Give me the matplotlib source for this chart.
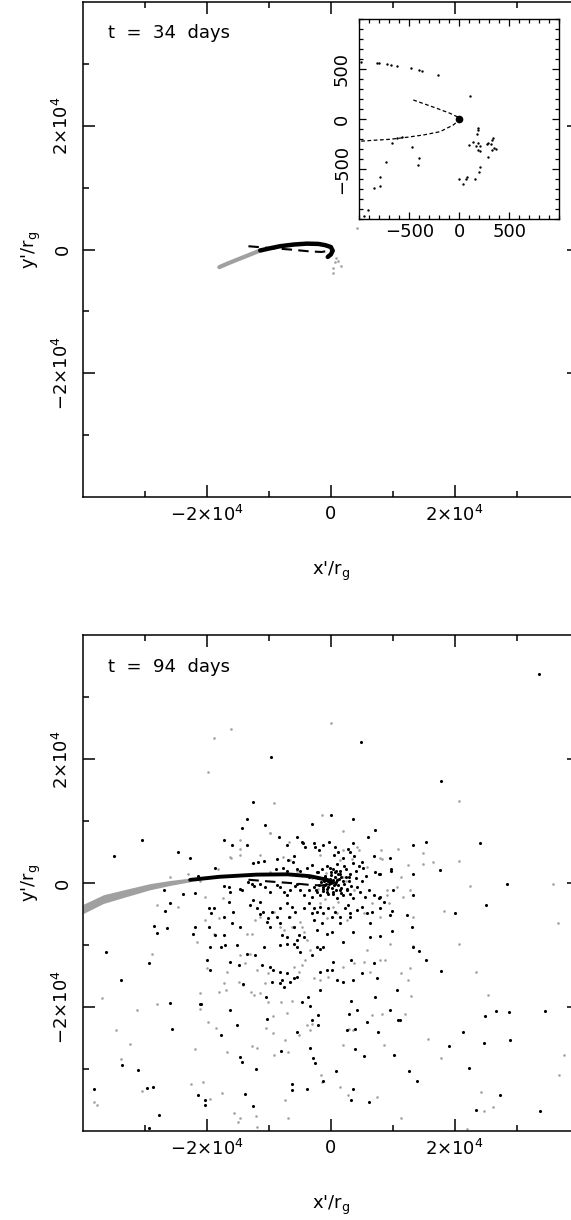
import numpy as np
import matplotlib
matplotlib.use('Agg')
import matplotlib.pyplot as plt
from matplotlib.ticker import FixedLocator, MultipleLocator

plt.rcParams['font.family'] = ['DejaVu Sans']
plt.rcParams['mathtext.fontset'] = 'dejavusans'
plt.rcParams['axes.linewidth'] = 1.1

GRAY = '#a0a0a0'
K = 1e3   # main-panel coordinates below are in units of 10^3 r_g

# =============================================================================
# t = 34 days
# =============================================================================
gstream34_x = [-18.0, -16.5, -15.0, -13.0, -11.4]
gstream34_y = [-2.85, -2.2, -1.6, -0.8, -0.16]
bstream34_x = [-11.4, -9.8, -8.2, -6.0, -3.9, -2.0, -0.9, 0.0, 0.3, 0.0, -0.5]
bstream34_y = [-0.16, 0.2, 0.53, 0.8, 0.95, 0.9, 0.7, 0.4, -0.2, -0.8, -1.2]
gray34 = [(0.85, -1.45), (1.1, -1.8), (0.6, -2.1), (1.6, -2.7), (0.35, -3.0),
          (0.4, -3.8), (4.3, 3.5)]

# dashed orbit in the main panels
orbit_x = [-13.3, -10.0, -6.6, -3.5, -1.5, -0.3]
orbit_y = [0.53, 0.25, 0.0, -0.3, -0.4, -0.2]

# inset (units of r_g)
inset_orbit_x = [-460, -226, -93, -10, 5, -60, -193, -360, -526, -693, -860, -1000]
inset_orbit_y = [193, 110, 60, 20, 0, -57, -124, -157, -180, -200, -210, -220]
inset_pts = [(-983, 576), (-826, 566), (-800, 566), (-726, 550), (-686, 546), (-626, 536),
             (-483, 516), (-406, 493), (-373, 486), (-216, 443), (107, 233), (190, -90),
             (184, -107), (180, -147), (100, -257), (140, -223), (167, -267), (190, -240),
             (207, -264), (184, -307), (207, -314), (274, -247), (290, -234), (314, -247),
             (340, -184), (324, -207), (347, -290), (324, -307), (364, -297), (284, -374),
             (207, -474), (200, -524), (157, -597), (80, -574), (67, -600), (34, -650),
             (-3, -597), (-476, -280), (-400, -384), (-416, -457), (-733, -427), (-793, -574),
             (-793, -667), (-856, -690), (-910, -907), (-950, -967), (-676, -234),
             (-626, -190), (-573, -177)]

# =============================================================================
# t = 94 days
# =============================================================================
gstream94_x = [-40.0, -36.7, -33.0, -29.2, -26.0, -22.7]
gstream94_y = [-4.2, -2.6, -1.6, -0.6, 0.0, 0.5]
gstream94_hw = [0.75, 0.7, 0.6, 0.5, 0.4, 0.3]
bstream94_x = [-22.7, -18.0, -12.0, -7.0, -3.4, -1.0, 0.0]
bstream94_y = [0.5, 1.0, 1.35, 1.4, 1.1, 0.6, 0.2]

black94 = [
    (-9.6, 20.4), (-12.6, 13.1), (-13.5, 10.3), (-10.7, 9.3), (-14.3, 8.8), (-30.4, 6.9),
    (-17.2, 7.0), (-15.9, 6.1), (-13.5, 6.2), (-8.4, 7.4), (-7.0, 6.2), (-24.6, 5.0),
    (-22.7, 4.0), (-35.0, 4.3), (-6.0, 4.4), (-8.7, 3.8), (-12.5, 3.3), (-11.8, 3.4),
    (-10.8, 3.5), (-18.7, 2.4), (0.1, 11.0), (3.6, 10.3), (-3.0, 9.6), (7.1, 8.6),
    (-5.4, 7.5), (-4.7, 6.6), (-4.5, 6.4), (-4.2, 5.8), (-2.7, 6.4), (-2.5, 5.8),
    (-1.2, 6.2), (-0.3, 6.6), (-1.9, 5.3), (0.7, 5.8), (1.2, 5.0), (3.6, 6.4), (3.1, 5.0),
    (6.0, 7.4), (-6.1, 3.4), (-6.9, 3.7), (-21.4, 1.2), (-8.9, 2.3), (-7.8, 2.5),
    (-7.0, 2.0), (-5.5, 2.3), (-5.0, 2.0), (-3.9, 2.5), (-3.0, 2.9), (-2.3, 1.8),
    (-1.5, 2.3), (-0.7, 2.7), (-0.2, 2.5), (0.1, 1.8), (0.9, 2.0), (1.5, 1.5), (2.5, 2.3),
    (3.1, 1.5), (4.0, 1.9), (5.2, 2.5), (5.7, 1.2), (7.1, 1.8), (7.9, 1.5),
    (-27.0, -1.2), (-23.8, -1.7), (-21.9, -1.6),
    (9.6, 4.1), (13.3, 6.2), (5.0, 3.4), (7.0, 4.3), (7.8, 1.5), (9.7, 2.0), (13.2, 1.5),
    (-17.3, -0.5), (-16.5, -0.6), (-16.2, -1.5), (-16.4, -3.0), (-14.7, -0.9),
    (-14.4, -1.2), (-13.3, 0.2), (-12.7, -0.1), (-12.4, -0.5), (-11.4, -0.1),
    (-10.6, -0.6), (-9.8, -1.5), (-8.7, -0.4), (-8.2, -0.6), (-7.6, -1.5), (-7.1, -2.0),
    (-6.6, -1.2), (-5.8, -0.5), (-5.4, -0.1), (-5.0, -1.2), (-4.4, -2.0), (-3.6, -1.2),
    (-3.1, -2.3), (-2.8, -0.6), (-2.3, -1.5), (-1.7, -2.0), (-1.2, -0.9), (-0.6, -1.5),
    (0.4, -1.7), (1.0, -2.5), (1.5, -1.2), (2.0, -2.0), (2.6, -0.9), (3.1, -1.7),
    (3.6, -2.5), (4.2, -0.6), (4.7, -1.5), (5.5, -2.3), (6.1, -1.2), (6.9, -2.0),
    (7.7, -2.5), (8.5, -3.1), (10.1, -1.2), (13.3, -2.0),
    (-19.7, -4.1), (-18.9, -4.1), (-19.4, -4.9), (-17.3, -5.5), (-16.0, -6.5),
    (-14.6, -7.1), (-15.8, -4.7), (-13.0, -3.6), (-12.5, -2.8), (-11.4, -3.1),
    (-11.9, -4.1), (-10.9, -4.7), (-11.4, -5.0), (-10.1, -5.7), (-9.5, -4.7), (-8.7, -5.5),
    (-8.2, -4.1), (-7.1, -3.3), (-6.3, -3.9), (-5.8, -4.7), (-6.8, -5.5), (-4.4, -4.1),
    (-3.6, -3.3), (-2.8, -4.1), (-3.1, -4.9), (-2.3, -4.7), (-1.7, -3.9), (-1.2, -4.9),
    (-0.4, -4.1), (0.2, -5.5), (0.7, -4.7), (1.5, -5.5), (2.3, -4.1), (2.8, -3.6),
    (3.1, -4.9), (4.2, -4.4), (5.0, -3.9), (5.8, -4.9), (6.6, -4.7), (8.0, -4.1),
    (6.3, -6.5), (9.5, -5.2), (12.3, -5.2), (13.1, -7.1), (13.3, -10.3),
    (-19.7, -7.1), (-21.9, -7.1), (-22.2, -8.2), (-18.7, -8.4), (-17.3, -8.4),
    (-10.3, -6.3), (-9.8, -7.1), (-8.2, -6.5), (-6.0, -7.1), (-5.2, -8.4), (-4.4, -8.7),
    (-5.5, -9.2), (-6.0, -9.8), (-7.1, -8.7), (-2.8, -6.0), (-2.3, -7.6), (-1.5, -6.5),
    (-0.6, -8.2), (0.2, -7.9), (1.5, -6.5), (2.0, -9.5), (3.1, -5.5), (3.6, -7.9),
    (6.3, -8.7), (8.0, -8.5),
    (-19.5, -10.3), (-17.8, -10.3), (-17.1, -10.0), (-15.2, -10.0), (-13.5, -11.4),
    (-12.2, -11.7), (-11.1, -13.3), (-10.8, -10.3), (-8.2, -10.0), (-7.9, -8.4),
    (-7.1, -9.8), (-5.5, -10.3), (-5.0, -11.1), (-3.1, -11.7), (-1.7, -10.6),
    (-1.2, -10.3), (-2.3, -10.3), (0.4, -12.7),
    (-20.0, -12.5), (-19.5, -14.1), (-16.2, -12.7), (-14.9, -13.3), (-9.8, -13.5),
    (-9.3, -14.1), (-8.2, -14.4), (-7.1, -14.6), (-6.0, -15.4), (-5.5, -15.2),
    (-1.7, -14.4), (-0.6, -14.1), (0.2, -14.1), (1.0, -15.7), (2.0, -16.0), (3.6, -15.7),
    (3.3, -12.5), (5.0, -14.5), (7.0, -12.9), (7.4, -15.4),
    (-8.2, -16.2), (-7.6, -16.8), (-6.6, -16.0), (-7.9, -15.7), (-14.1, -16.3),
    (-10.4, -18.4), (-9.5, -16.0), (-4.7, -19.2), (-3.7, -18.4), (-1.8, -17.2),
    (7.1, -18.4), (10.6, -17.3),
    (-16.2, -20.5), (-21.1, -19.5), (-17.8, -24.6), (-15.2, -23.0), (-10.3, -21.9),
    (-5.5, -24.0), (-3.1, -22.1), (-2.0, -21.3), (-2.0, -23.0), (2.6, -23.8), (3.9, -23.5),
    (5.8, -22.4), (9.6, -20.5), (10.9, -22.1),
    (-25.9, -19.3), (-21.0, -19.6), (-25.6, -23.6), (-33.7, -29.4), (-31.1, -30.2),
    (-38.2, -33.3), (-29.7, -33.1), (-28.7, -32.9), (-27.7, -37.5), (-29.3, -39.5),
    (-21.5, -34.3), (-20.3, -35.0), (-20.3, -35.9), (-14.7, -28.1), (-14.3, -28.9),
    (-13.9, -34.0), (-12.5, -36.0), (-12.0, -30.0), (-8.0, -27.2), (-6.2, -32.4),
    (-6.2, -33.4), (-3.8, -33.3), (-3.4, -19.9), (-3.4, -26.6), (-2.9, -28.2),
    (-2.5, -29.0), (-1.2, -32.0), (0.9, -30.3), (3.0, -21.2), (3.3, -19.0), (4.2, -20.5),
    (3.9, -26.8), (5.4, -27.9), (3.6, -33.3), (3.2, -35.1), (6.2, -35.3), (7.6, -24.0),
    (10.2, -27.7), (11.1, -22.2), (12.6, -30.3), (13.9, -31.9), (21.3, -24.0),
    (19.0, -26.4), (22.3, -29.9), (23.5, -36.7), (24.7, -25.9), (24.9, -21.4),
    (26.7, -20.7), (28.7, -20.8), (27.3, -34.3), (28.9, -25.3), (33.8, -36.9),
    (34.5, -20.7),
    (28.5, -0.1), (25.0, -3.6), (20.0, -4.9), (9.9, -4.5), (9.8, -7.8), (8.0, -2.3),
    (14.3, -11.0), (15.3, -12.5), (17.7, -14.2),
    (-26.7, -4.5), (-26.0, -3.3), (-28.5, -6.9), (-28.0, -8.0), (-26.4, -7.2),
    (-36.3, -11.2), (-29.4, -12.9), (-33.9, -15.7),
    (33.6, 33.8), (17.7, 16.5), (15.4, 6.6), (24.0, 6.5), (9.7, 2.2), (17.6, 2.05),
    (4.9, 22.7),
    # dense core around the hole
    (0.0, 0.0), (0.3, 0.2), (-0.3, -0.2), (0.5, -0.4), (-0.5, 0.3), (0.8, 0.1),
    (-0.8, -0.1), (0.2, -0.8), (-0.2, 0.7), (1.1, -0.3), (-1.1, 0.4), (0.6, 0.9),
    (-0.6, -0.9), (1.3, 0.6), (-1.3, -0.6), (0.9, -1.1), (-0.9, 1.0), (1.6, -0.8),
    (-1.6, 0.2), (0.1, 1.3), (0.4, -1.4), (1.9, 0.3), (-1.9, -0.4), (1.2, 1.4),
    (-1.2, -1.3), (2.2, -0.2), (-2.1, 0.8), (0.7, 1.8), (2.4, 1.0), (1.7, -1.6),
    (-0.4, -1.8), (2.6, -1.1), (0.3, 2.2), (-2.4, -1.2), (1.5, 2.0), (2.9, 0.4),
    (3.2, -0.5), (-0.1, 0.4), (0.4, 0.5), (-0.4, -0.6), (0.6, -0.1), (-0.7, 0.6),
    (1.0, 0.5), (-1.0, -0.4), (1.0, 3.0), (2.0, 4.0), (3.5, 3.2), (4.5, 2.8), (0.5, 4.5),
    (2.8, 5.5), (3.8, 4.4), (1.7, 1.0), (2.2, 2.8), (4.0, 0.8), (5.0, 0.3), (3.0, 1.0),
    (-1.0, 1.2), (-2.0, 1.8), (-3.5, 1.0),
]

gray94 = [
    (-16.1, 24.8), (-18.8, 23.4), (-19.8, 18.0), (-9.1, 12.9), (-9.9, 8.0), (-14.6, 5.5),
    (-16.1, 4.1), (-23.0, 1.4), (-1.5, 10.9), (1.9, 8.4), (-6.8, 6.7), (1.9, 5.3),
    (8.0, 4.0), (8.1, 5.4), (4.5, 5.4), (-14.7, 4.5), (-18.2, 2.3), (-25.9, 1.0),
    (-9.8, 1.8), (-7.7, 4.2), (-20.3, -2.3), (-17.4, -2.4), (11.3, 0.9), (12.5, 2.9),
    (10.9, 5.5), (0.0, 25.8),
    (-20.3, -6.0), (-18.1, -5.7), (-18.9, -8.2), (-21.6, -9.5), (-20.0, -13.7),
    (-18.0, -17.6), (-17.0, -17.3), (-14.9, -16.0), (-14.1, -16.5), (-12.9, -17.6),
    (-12.4, -18.1), (-11.4, -17.8), (-10.6, -16.2), (-10.1, -14.6), (-11.9, -14.1),
    (-13.8, -13.0), (-16.8, -14.4), (-17.3, -16.2), (-14.6, -11.7), (-13.0, -11.4),
    (-13.5, -8.2), (-12.7, -8.3), (-12.2, -6.0), (-11.4, -5.5), (-9.2, -4.7),
    (-8.2, -7.1), (-7.6, -7.6), (-6.6, -5.5), (-6.3, -7.1), (-4.9, -6.3), (-4.7, -7.1),
    (-4.4, -7.9), (-3.9, -9.2), (-3.3, -10.9), (-4.1, -12.5), (-4.7, -13.3),
    (-6.0, -13.5), (-5.2, -14.4), (-2.8, -15.4), (-1.7, -15.6), (-0.4, -15.2),
    (2.0, -13.5), (3.7, -13.0), (5.3, -12.7), (6.3, -14.4), (8.0, -12.5), (9.5, -9.9),
    (5.8, -10.9), (2.6, -6.0), (1.0, -4.9), (0.4, -3.9), (-1.7, -3.3), (-0.6, -5.7),
    (8.0, -5.5), (6.6, -3.3), (3.7, -1.2), (5.3, -4.9), (9.0, -2.0), (11.6, -2.3),
    (10.6, -0.6), (12.8, -1.2), (13.3, -5.5), (12.5, -15.7), (-21.1, -17.8),
    (-9.8, 8.0), (-11.4, 4.5), (-6.6, 3.7), (-5.5, 2.0), (-1.7, 4.5), (1.5, 3.7),
    (2.0, 1.0), (5.8, 2.6), (8.2, 3.9), (4.2, 5.8), (-16.2, 4.2), (-21.1, 0.4),
    (-14.6, 6.9),
    (-31.3, -20.5), (-28.0, -19.5), (-34.7, -23.8), (-32.4, -26.0), (-33.8, -28.4),
    (-30.5, -33.6), (-38.3, -35.4), (-37.7, -35.9), (-21.1, -20.3), (-19.9, -22.5),
    (-21.9, -26.8), (-22.6, -32.5), (-20.7, -32.2), (-19.5, -34.9), (-17.6, -33.9),
    (-15.6, -37.2), (-14.7, -38.0), (-15.0, -38.6), (-12.7, -26.4), (-11.9, -26.6),
    (-16.8, -27.3), (-18.6, -23.4), (-12.0, -37.7), (-11.9, -39.4), (-10.2, -19.2),
    (-8.0, -19.2), (-6.2, -19.1), (-9.3, -21.5), (-7.1, -21.0), (-10.5, -23.4),
    (-9.4, -24.3), (-7.4, -25.4), (-6.9, -27.3), (-9.2, -27.7), (-5.2, -24.6),
    (-3.4, -23.8), (-3.8, -22.9), (-3.1, -22.7), (-1.6, -31.0), (-1.5, -32.1),
    (-7.4, -35.1), (-6.9, -38.0), (1.4, -32.9), (2.8, -34.2), (3.0, -23.5), (3.6, -23.8),
    (1.9, -26.2), (6.6, -21.3), (8.2, -21.2), (7.4, -34.5), (8.5, -26.2), (11.9, -21.1),
    (11.3, -38.0), (15.7, -25.2), (17.7, -28.3), (22.0, -39.7), (24.2, -33.7),
    (24.7, -36.8), (26.2, -36.1), (36.8, -31.0), (37.6, -27.7),
    (9.1, -1.2), (22.5, -0.5), (35.9, -0.1), (18.3, -4.6), (9.35, -3.3), (13.2, -10.2),
    (20.7, -9.8), (36.7, -6.4), (8.7, -12.5), (12.7, -13.8), (11.4, -14.5),
    (23.4, -14.4), (13.0, -18.2), (25.4, -18.1),
    (20.75, 13.3), (14.9, 4.9), (14.8, 3.1), (16.55, 3.4), (20.75, 3.55),
    (-28.0, -3.5), (-24.7, -3.9), (-28.8, -11.4), (-37.0, -18.5),
    (-1.0, -2.6), (1.2, -3.0), (-2.0, -1.0), (0.8, 0.8), (2.5, 0.4), (-0.8, 1.6),
    (3.4, 3.8), (-3.0, 0.8),
]

major_ticks = [-20e3, 0, 20e3]
minor_ticks = [-30e3, -10e3, 10e3, 30e3]
major_labels = [r'$-2{\times}10^4$', '0', r'$2{\times}10^4$']


def style_main(ax, title):
    ax.set_xlim(-40e3, 40e3)
    ax.set_ylim(-40e3, 40e3)
    for axis in (ax.xaxis, ax.yaxis):
        axis.set_major_locator(FixedLocator(major_ticks))
        axis.set_minor_locator(FixedLocator(minor_ticks))
    ax.set_xticklabels(major_labels)
    ax.set_yticklabels(major_labels)
    ax.tick_params(which='both', direction='in', top=True, right=True, width=1.1,
                   labelsize=13)
    ax.tick_params(which='major', length=8.6)
    ax.tick_params(which='minor', length=4.3)
    ax.tick_params(axis='x', pad=6)
    ax.tick_params(axis='y', pad=8, labelrotation=90)
    for lab in ax.get_yticklabels():
        lab.set_va('center')
    ax.set_xlabel("x'/r$_\\mathrm{g}$", fontsize=13)
    ax.set_ylabel("y'/r$_\\mathrm{g}$", fontsize=13)
    ax.xaxis.set_label_coords(0.5, -0.127)
    ax.yaxis.set_label_coords(-0.081, 0.5)
    ax.text(0.05, 0.937, title, transform=ax.transAxes, fontsize=13, va='center')


fig = plt.figure(figsize=(5.71, 12.2), dpi=100)

# ---- top panel
ax1 = fig.add_axes([0.14536, 0.59262, 0.86813, 0.40574])
ax1.plot(np.array(gstream34_x) * K, np.array(gstream34_y) * K, color=GRAY, lw=3.0,
         solid_capstyle='round')
ax1.plot(np.array(bstream34_x) * K, np.array(bstream34_y) * K, color='black', lw=3.2,
         solid_capstyle='round', solid_joinstyle='round')
ax1.plot(np.array(orbit_x) * K, np.array(orbit_y) * K, color='black', lw=1.5,
         dashes=(5, 3))
g34 = np.array(gray34) * K
ax1.scatter(g34[:, 0], g34[:, 1], s=3.5, color=GRAY, linewidths=0)
style_main(ax1, 't  =  34  days')

# inset
axi = fig.add_axes([0.62925, 0.82025, 0.35026, 0.16393])
axi.set_facecolor('white')
axi.plot(inset_orbit_x, inset_orbit_y, color='black', lw=0.9, dashes=(3, 2))
ip = np.array(inset_pts)
axi.scatter(ip[:, 0], ip[:, 1], s=3, color='black', linewidths=0)
axi.plot([0], [0], 'o', color='black', ms=4.5)
axi.set_xlim(-1000, 1000)
axi.set_ylim(-1000, 1000)
for axis in (axi.xaxis, axi.yaxis):
    axis.set_major_locator(FixedLocator([-500, 0, 500]))
    axis.set_minor_locator(MultipleLocator(100))
axi.set_xticklabels(['\u2212500', '0', '500'])
axi.set_yticklabels(['\u2212500', '0', '500'])
axi.tick_params(which='both', direction='in', top=True, right=True, width=0.9,
                labelsize=13)
axi.tick_params(which='major', length=5)
axi.tick_params(which='minor', length=2.8)
axi.tick_params(axis='x', pad=3)
axi.tick_params(axis='y', pad=6, labelrotation=90)
for lab in axi.get_yticklabels():
    lab.set_va('center')
for sp in axi.spines.values():
    sp.set_linewidth(1.0)

# ---- bottom panel
ax2 = fig.add_axes([0.14536, 0.07320, 0.86813, 0.40607])
gx = np.array(gstream94_x) * K
gy = np.array(gstream94_y) * K
gw = np.array(gstream94_hw) * K
ax2.fill_between(gx, gy - gw, gy + gw, color=GRAY, lw=0)
ax2.plot(np.array(bstream94_x) * K, np.array(bstream94_y) * K, color='black', lw=2.8,
         solid_capstyle='round')
ax2.plot(np.array(orbit_x) * K, np.array(orbit_y) * K, color='black', lw=1.5,
         dashes=(5, 3))
g94 = np.array(gray94) * K
b94 = np.array(black94) * K
ax2.scatter(g94[:, 0], g94[:, 1], s=3.5, color=GRAY, linewidths=0)
ax2.scatter(b94[:, 0], b94[:, 1], s=5, color='black', linewidths=0)
style_main(ax2, 't  =  94  days')

fig.savefig('out.png', dpi=100)
